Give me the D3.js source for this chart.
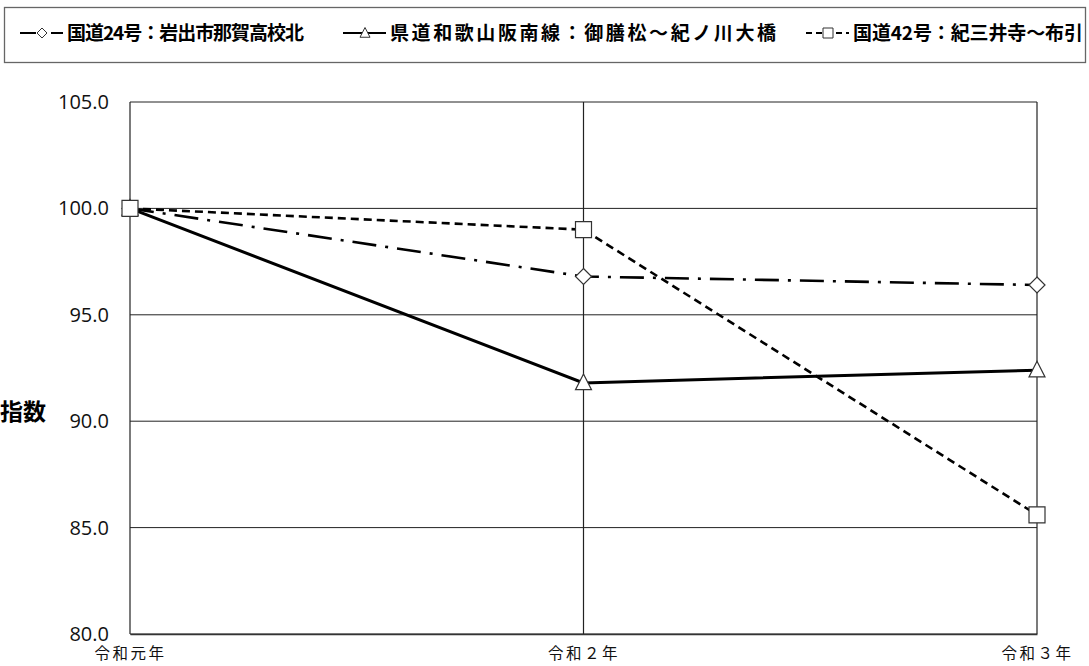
<!DOCTYPE html>
<html>
<head>
<meta charset="utf-8">
<script src="https://cdn.jsdelivr.net/npm/d3@7"></script>
<style>
  body { margin: 0; background: #fff; }
  svg { display: block; }
</style>
</head>
<body>
<svg id="chart" width="1089" height="666"></svg>
<script>
// data
const categories = ['令和元年', '令和２年', '令和３年'];
const seriesNames = ['国道24号：岩出市那賀高校北', '県道和歌山阪南線：御膳松～紀ノ川大橋', '国道42号：紀三井寺～布引'];
const route24 = [100.0, 96.8, 96.4];
const hannan = [100.0, 91.8, 92.4];
const route42 = [100.0, 99.0, 85.6];
const yTicks = [80, 85, 90, 95, 100, 105];

const width = 1089, height = 666;
const plotLeft = 130, plotRight = 1037, plotTop = 102, plotBottom = 634;

const svg = d3.select('#chart');

const x = d3.scalePoint().domain(categories).range([plotLeft, plotRight]);
const y = d3.scaleLinear().domain([80, 105]).range([plotBottom, plotTop]);

// series styles
const series = [
  { name: seriesNames[0], values: route24, dash: '24,9,3,9', width: 2.6, marker: 'diamond' },
  { name: seriesNames[1], values: hannan, dash: null, width: 3, marker: 'triangle' },
  { name: seriesNames[2], values: route42, dash: '8,5', width: 2.6, marker: 'square' }
];

// horizontal grid
svg.append('g')
  .selectAll('line')
  .data(yTicks)
  .enter()
  .append('line')
  .attr('x1', plotLeft).attr('x2', plotRight)
  .attr('y1', d => y(d)).attr('y2', d => y(d))
  .attr('stroke', '#222')
  .attr('stroke-width', 1);

// vertical grid at categories
svg.append('g')
  .selectAll('line')
  .data(categories)
  .enter()
  .append('line')
  .attr('x1', d => x(d)).attr('x2', d => x(d))
  .attr('y1', plotTop).attr('y2', plotBottom)
  .attr('stroke', '#222')
  .attr('stroke-width', 1.2);

// y axis
const yAxis = d3.axisLeft(y).tickValues(yTicks).tickFormat(d3.format('.1f')).tickSize(0).tickPadding(21);
const yg = svg.append('g').attr('transform', `translate(${plotLeft},0)`).call(yAxis);
yg.select('.domain').remove();
yg.selectAll('text')
  .attr('font-family', '"Open Sans", "Noto Sans", sans-serif')
  .attr('font-size', 20)
  .attr('fill', '#111');

// x axis labels
const xAxis = d3.axisBottom(x).tickSize(0).tickPadding(14);
const xg = svg.append('g').attr('transform', `translate(0,${plotBottom})`).call(xAxis);
xg.select('.domain').attr('stroke', '#333').attr('stroke-width', 1.5);
xg.selectAll('text')
  .attr('font-family', '"Noto Sans CJK JP", sans-serif')
  .attr('font-size', 15.5)
  .attr('letter-spacing', 2.5)
  .attr('fill', '#111');

// y title
svg.append('text')
  .attr('x', 0)
  .attr('y', 420)
  .attr('font-family', '"Noto Sans CJK JP", sans-serif')
  .attr('font-weight', 'bold')
  .attr('font-size', 23)
  .text('指数');

// lines
const line = d3.line().x((d, i) => x(categories[i])).y(d => y(d));

svg.append('g')
  .selectAll('path')
  .data(series)
  .enter()
  .append('path')
  .attr('d', d => line(d.values))
  .attr('fill', 'none')
  .attr('stroke', '#000')
  .attr('stroke-width', d => d.width)
  .attr('stroke-dasharray', d => d.dash);

// markers
function markerPath(type, s) {
  if (type === 'diamond') return `M0,${-s}L${s},0L0,${s}L${-s},0Z`;
  if (type === 'triangle') return `M0,${-s * 1.1}L${s},${s * 0.85}L${-s},${s * 0.85}Z`;
  return `M${-s},${-s}H${s}V${s}H${-s}Z`;
}

series.forEach(s => {
  svg.append('g')
    .selectAll('path')
    .data(s.values)
    .enter()
    .append('path')
    .attr('transform', (d, i) => `translate(${x(categories[i])},${y(d)})`)
    .attr('d', markerPath(s.marker, 8))
    .attr('fill', '#fff')
    .attr('stroke', '#333')
    .attr('stroke-width', 1.2);
});

// legend
svg.append('rect')
  .attr('x', 4.5).attr('y', 7.5)
  .attr('width', 1081).attr('height', 55)
  .attr('fill', 'none')
  .attr('stroke', '#666')
  .attr('stroke-width', 1.3);

const legendX = [20, 343, 806];
const legendTextLen = [237, 386, 230];
const legend = svg.append('g')
  .selectAll('g')
  .data(series)
  .enter()
  .append('g')
  .attr('transform', (d, i) => `translate(${legendX[i]},33)`);

legend.append('line')
  .attr('x1', 0).attr('x2', 43)
  .attr('y1', 0).attr('y2', 0)
  .attr('stroke', '#000')
  .attr('stroke-width', 2.2)
  .attr('stroke-dasharray', (d, i) => i === 0 ? '16,6,3,6' : (i === 2 ? '6,4' : null));

legend.append('path')
  .attr('transform', 'translate(22,0)')
  .attr('d', d => markerPath(d.marker, 5))
  .attr('fill', '#fff')
  .attr('stroke', '#333')
  .attr('stroke-width', 1);

legend.append('text')
  .attr('x', 47)
  .attr('y', 7)
  .attr('font-family', '"Noto Sans CJK JP", sans-serif')
  .attr('font-weight', 'bold')
  .attr('font-size', 19)
  .attr('textLength', (d, i) => legendTextLen[i])
  .attr('lengthAdjust', 'spacing')
  .text(d => d.name);
</script>
</body>
</html>
